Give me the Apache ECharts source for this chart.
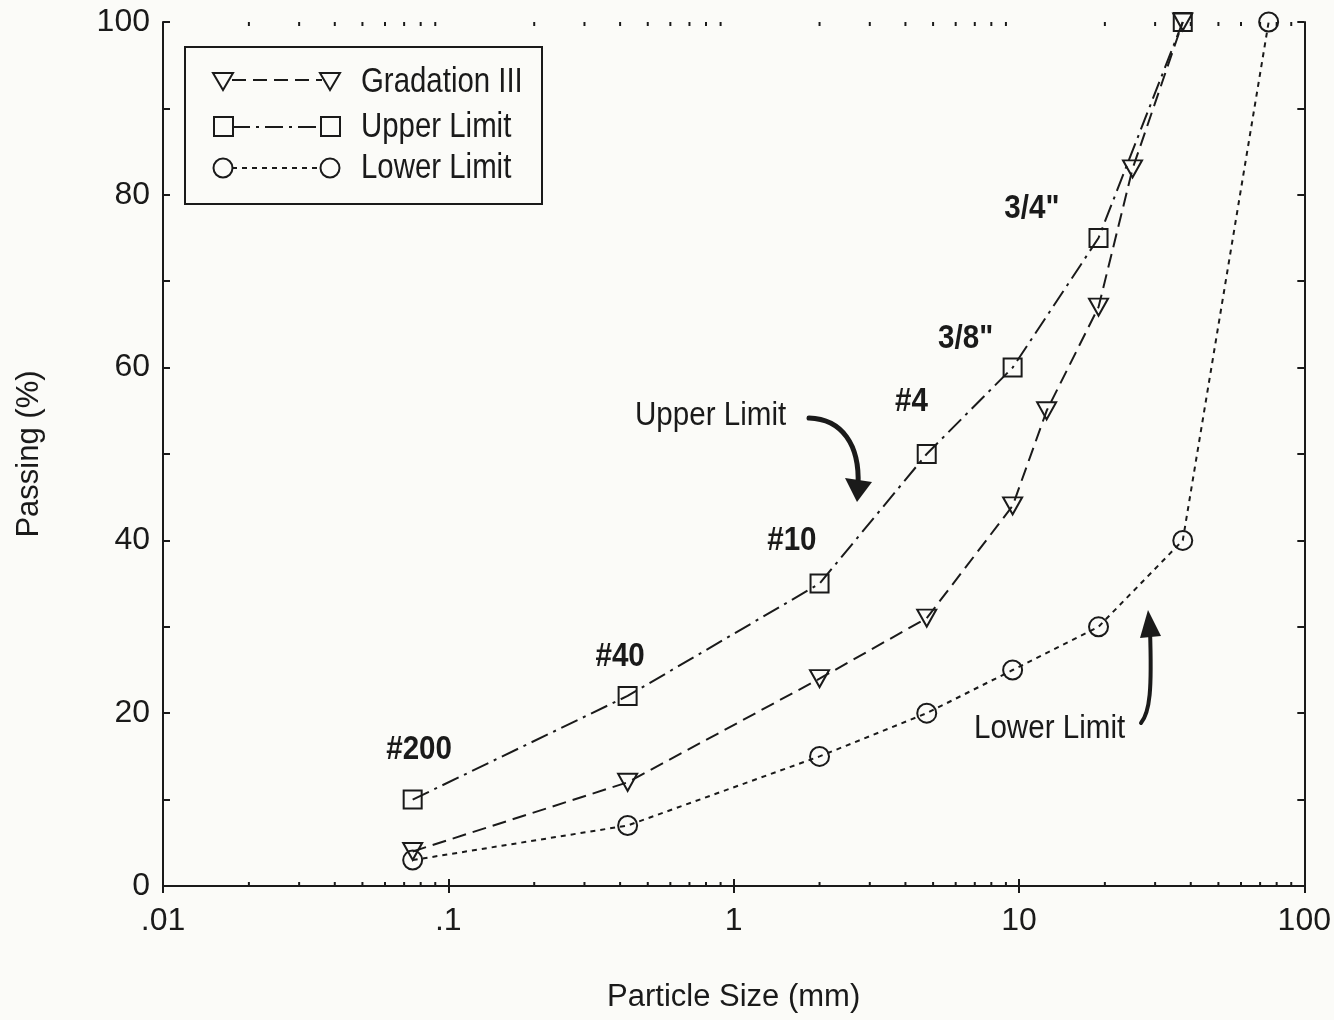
<!DOCTYPE html>
<html>
<head>
<meta charset="utf-8">
<script src="https://cdn.jsdelivr.net/npm/echarts@6/dist/echarts.min.js"></script>
<style>
html,body{margin:0;padding:0;background:#fbfbf8;}
#chart{width:1334px;height:1020px;}
</style>
</head>
<body>
<div id="chart"></div>
<script>
// ---- data ----
const gradSizes    = [0.075, 0.425, 2, 4.75, 9.5, 12.5, 19, 25, 37.5];
const gradPassing  = [4, 12, 24, 31, 44, 55, 67, 83, 100];
const upperSizes   = [0.075, 0.425, 2, 4.75, 9.5, 19, 37.5];
const upperPassing = [10, 22, 35, 50, 60, 75, 100];
const lowerSizes   = [0.075, 0.425, 2, 4.75, 9.5, 19, 37.5, 75];
const lowerPassing = [3, 7, 15, 20, 25, 30, 40, 100];
const seriesNames  = ['Gradation III', 'Upper Limit', 'Lower Limit'];
const minorTickValues = [0.02,0.03,0.04,0.05,0.06,0.07,0.08,0.09,
                         0.2,0.3,0.4,0.5,0.6,0.7,0.8,0.9,
                         2,3,4,5,6,7,8,9,
                         20,30,40,50,60,70,80,90];
const annotationText = ['#200', '#40', '#10', '#4', '3/8"', '3/4"', 'Upper Limit', 'Lower Limit'];
const annotationX    = [0.079, 0.40, 1.6, 4.2, 6.5, 11.1, 0.83, 12.8];
const annotationY    = [15.8, 26.5, 40.0, 56.1, 63.4, 78.4, 54.4, 18.2];
const annotationBold = [1, 1, 1, 1, 1, 1, 0, 0];

const FONT = "'Liberation Sans', Arial, Helvetica, sans-serif";
const INK = '#1a1a1a';
const BG = '#fbfbf8';

function pairs(xs, ys){ return xs.map((x,i)=>[x, ys[i]]); }
function fmtX(v){ const s = String(Number(v.toPrecision(3))); return s.startsWith('0.') ? s.slice(1) : s; }

const chart = echarts.init(document.getElementById('chart'), null, {renderer:'canvas'});

const axisCommon = {
  axisLine:{show:true, lineStyle:{color:INK, width:2}},
  splitLine:{show:false}
};

function legendText(y, txt){
  return {type:'text', x:361, y:y, scaleX:0.84, z:11,
    style:{x:0, y:0, text:txt, font:'35px ' + FONT, fill:INK, verticalAlign:'middle'}};
}

const option = {
  backgroundColor:BG,
  animation:false,
  textStyle:{fontFamily:FONT, color:INK},
  grid:{left:163, right:26, top:22, bottom:134, containLabel:false},
  xAxis:[
    Object.assign({}, axisCommon, {
      type:'log', logBase:10, min:0.01, max:100, position:'bottom',
      name:'Particle Size (mm)', nameLocation:'middle', nameGap:96,
      nameTextStyle:{fontFamily:FONT, fontSize:31, color:INK},
      axisTick:{show:true, inside:true, length:7, lineStyle:{color:INK, width:2}},
      axisLabel:{show:true, fontFamily:FONT, fontSize:32, color:INK, margin:19, formatter:fmtX}
    }),
    Object.assign({}, axisCommon, {
      type:'log', logBase:10, min:0.01, max:100, position:'top',
      axisTick:{show:true, inside:true, length:7, lineStyle:{color:INK, width:2}},
      axisLabel:{show:false}
    })
  ],
  yAxis:[
    Object.assign({}, axisCommon, {
      type:'value', min:0, max:100, interval:10, position:'left',
      name:'Passing (%)', nameLocation:'middle', nameGap:118, nameRotate:90,
      nameTextStyle:{fontFamily:FONT, fontSize:31, color:INK},
      axisTick:{show:true, inside:true, length:7, lineStyle:{color:INK, width:2}},
      axisLabel:{show:true, fontFamily:FONT, fontSize:32, color:INK, margin:13,
        formatter:v => (v % 20 === 0 ? String(v) : '')}
    }),
    Object.assign({}, axisCommon, {
      type:'value', min:0, max:100, interval:10, position:'right',
      axisTick:{show:true, inside:true, length:7, lineStyle:{color:INK, width:2}},
      axisLabel:{show:false}
    })
  ],
  series:[
    {
      name:seriesNames[0], type:'line', data:pairs(gradSizes, gradPassing),
      symbol:'triangle', symbolRotate:180, symbolSize:[19,17],
      lineStyle:{color:INK, width:2, type:[14,7]},
      itemStyle:{color:'rgba(0,0,0,0)', borderColor:INK, borderWidth:2},
      z:3
    },
    {
      name:seriesNames[1], type:'line', data:pairs(upperSizes, upperPassing),
      symbol:'rect', symbolSize:18,
      lineStyle:{color:INK, width:2, type:[18,6,3,6]},
      itemStyle:{color:'rgba(0,0,0,0)', borderColor:INK, borderWidth:2},
      z:3
    },
    {
      name:seriesNames[2], type:'line', data:pairs(lowerSizes, lowerPassing),
      symbol:'circle', symbolSize:19,
      lineStyle:{color:INK, width:2, type:[5,5]},
      itemStyle:{color:'rgba(0,0,0,0)', borderColor:INK, borderWidth:2},
      z:3
    },
    {
      name:'minor ticks', type:'custom', silent:true, clip:false,
      data:minorTickValues.map(v=>[v,0]),
      encode:{x:0, y:1},
      renderItem:function(params, api){
        const v = api.value(0);
        const b = api.coord([v, 0]);
        const t = api.coord([v, 100]);
        const st = {stroke:INK, lineWidth:2};
        return {type:'group', children:[
          {type:'line', shape:{x1:b[0], y1:b[1], x2:b[0], y2:b[1]-4}, style:st},
          {type:'line', shape:{x1:t[0], y1:t[1], x2:t[0], y2:t[1]+4}, style:st}
        ]};
      },
      z:2
    },
    {
      name:'annotations', type:'custom', silent:true, clip:false,
      data:annotationText.map((t,i)=>[annotationX[i], annotationY[i], i]),
      encode:{x:0, y:1},
      renderItem:function(params, api){
        const i = api.value(2);
        const p = api.coord([api.value(0), api.value(1)]);
        return {type:'text', x:p[0], y:p[1], scaleX:0.87,
          style:{x:0, y:0, text:annotationText[i],
            font:(annotationBold[i] ? 'bold ' : '') + '34px ' + FONT,
            fill:INK, align:'center', verticalAlign:'middle'}};
      },
      z:4
    }
  ],
  graphic:[
    // legend box
    {type:'rect', shape:{x:185, y:47, width:357, height:157},
      style:{fill:BG, stroke:INK, lineWidth:2}, z:10},
    // Gradation III row
    {type:'line', shape:{x1:232, y1:80, x2:322, y2:80}, style:{stroke:INK, lineWidth:2, lineDash:[14,7]}, z:11},
    {type:'polygon', shape:{points:[[213,73],[233,73],[223,90]]}, style:{fill:'none', stroke:INK, lineWidth:2}, z:11},
    {type:'polygon', shape:{points:[[320,73],[340,73],[330,90]]}, style:{fill:'none', stroke:INK, lineWidth:2}, z:11},
    legendText(82, seriesNames[0]),
    // Upper Limit row
    {type:'line', shape:{x1:232, y1:127, x2:322, y2:127}, style:{stroke:INK, lineWidth:2, lineDash:[18,6,3,6]}, z:11},
    {type:'rect', shape:{x:214, y:117, width:19, height:19}, style:{fill:'none', stroke:INK, lineWidth:2}, z:11},
    {type:'rect', shape:{x:321, y:117, width:19, height:19}, style:{fill:'none', stroke:INK, lineWidth:2}, z:11},
    legendText(127, seriesNames[1]),
    // Lower Limit row
    {type:'line', shape:{x1:232, y1:168, x2:322, y2:168}, style:{stroke:INK, lineWidth:2, lineDash:[5,5]}, z:11},
    {type:'circle', shape:{cx:223, cy:168, r:9.5}, style:{fill:'none', stroke:INK, lineWidth:2}, z:11},
    {type:'circle', shape:{cx:330, cy:168, r:9.5}, style:{fill:'none', stroke:INK, lineWidth:2}, z:11},
    legendText(168, seriesNames[2]),
    // Upper Limit arrow
    {type:'bezierCurve', shape:{x1:809, y1:418, cpx1:842, cpy1:419, cpx2:860, cpy2:445, x2:858, y2:485},
      style:{stroke:INK, lineWidth:5, fill:'none', lineCap:'round'}, z:11},
    {type:'polygon', shape:{points:[[845,478],[872,482],[857,502]]}, style:{fill:INK}, z:11},
    // Lower Limit arrow
    {type:'bezierCurve', shape:{x1:1141, y1:723, cpx1:1150, cpy1:712, cpx2:1152, cpy2:690, x2:1150, y2:630},
      style:{stroke:INK, lineWidth:4, fill:'none', lineCap:'round'}, z:11},
    {type:'polygon', shape:{points:[[1140,638],[1161,636],[1148,610]]}, style:{fill:INK}, z:11}
  ]
};
chart.setOption(option);
</script>
</body>
</html>
